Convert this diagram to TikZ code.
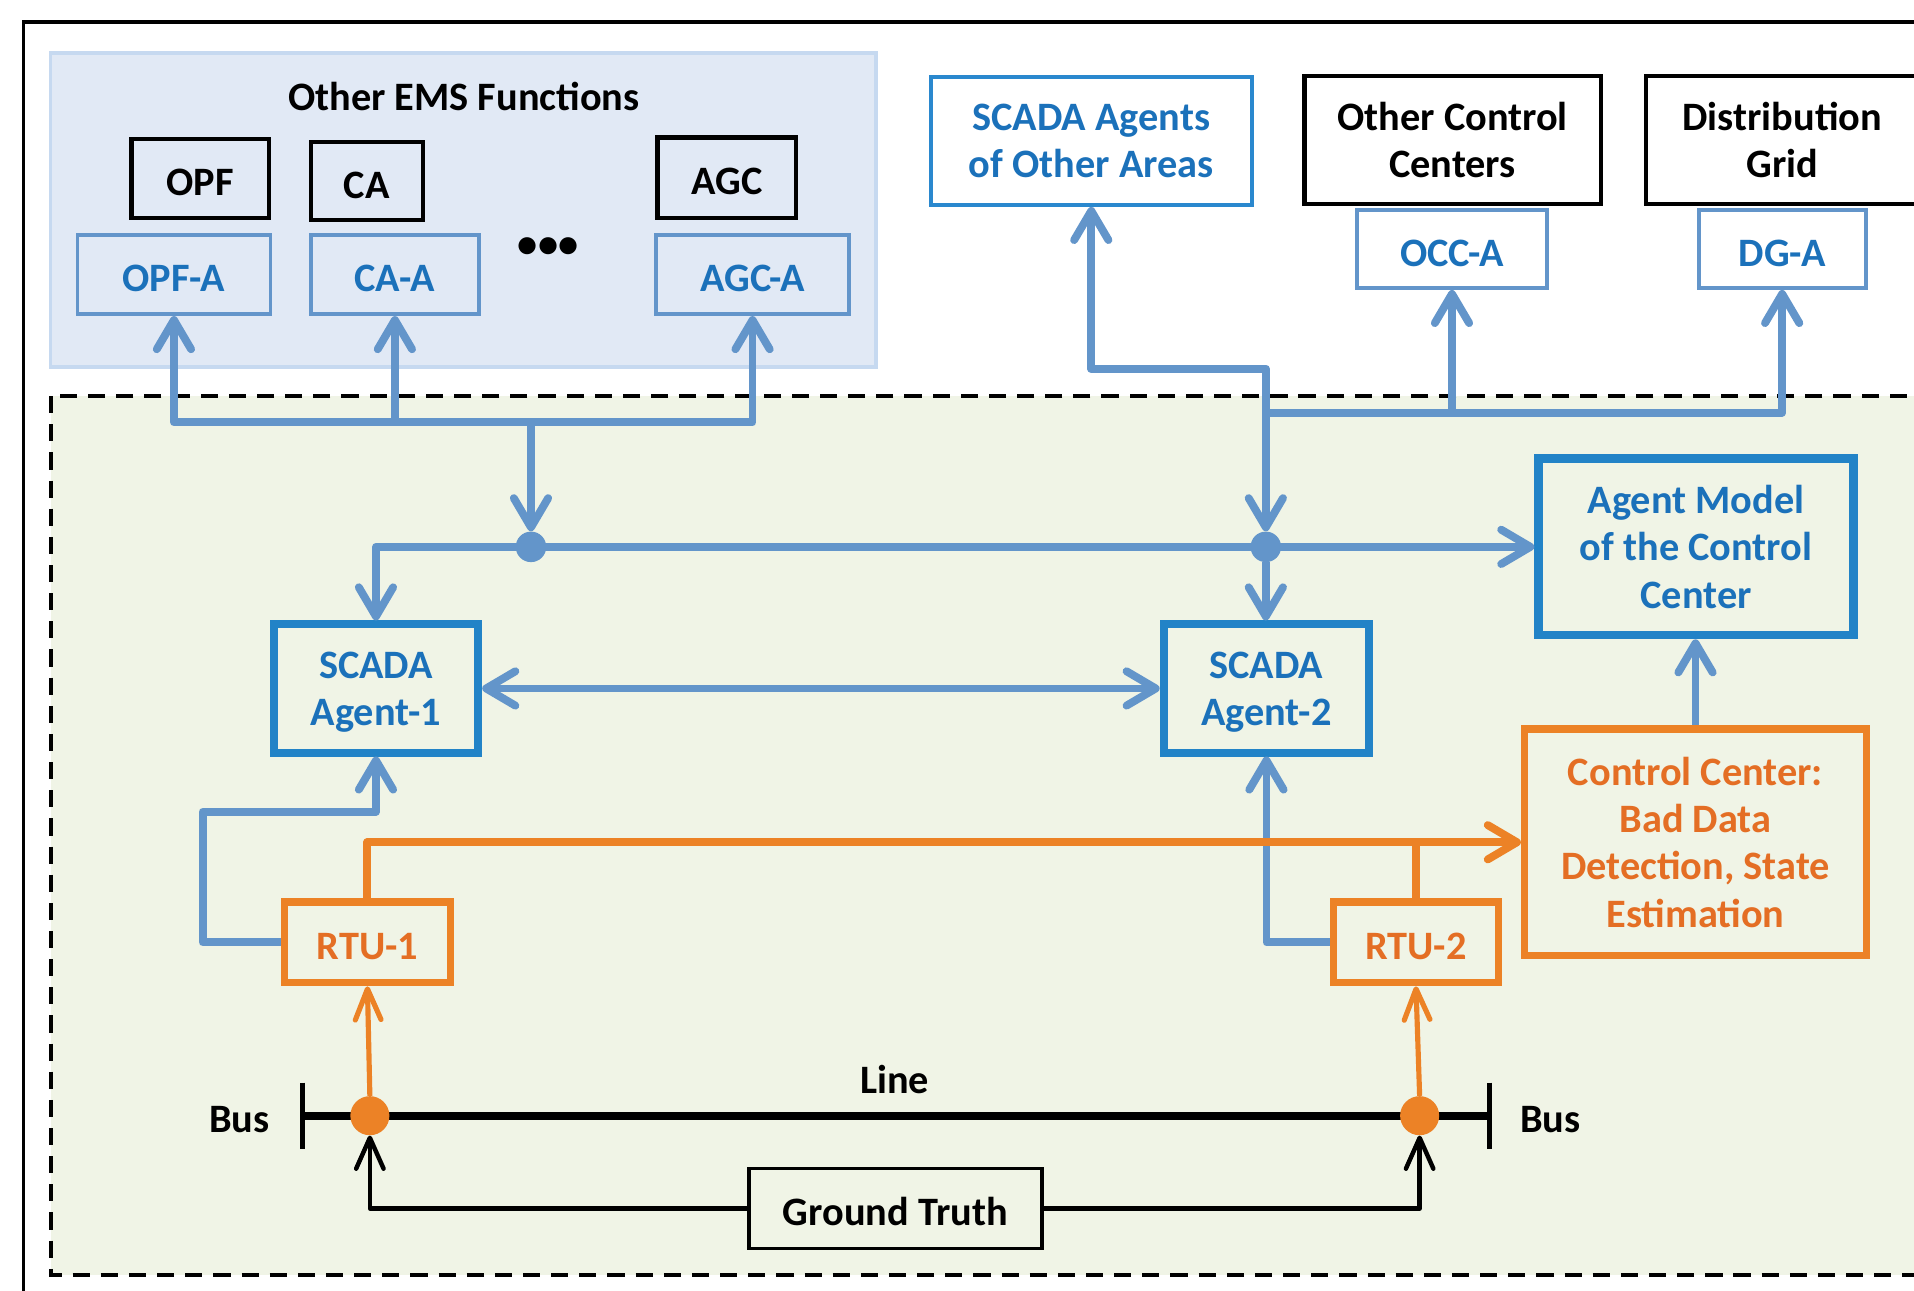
\documentclass[tikz,border=0pt]{standalone}
\usepackage{fontspec}
\setmainfont{Carlito}
\usetikzlibrary{arrows.meta,calc}

\definecolor{txtblue}{RGB}{27,113,186}
\definecolor{linkblue}{RGB}{99,149,202}
\definecolor{boxblue}{RGB}{34,131,199}
\definecolor{brightblue}{RGB}{42,136,206}
\definecolor{orng}{RGB}{236,130,38}
\definecolor{orngtxt}{RGB}{228,110,36}
\definecolor{panelfill}{RGB}{225,233,245}
\definecolor{panelline}{RGB}{198,217,240}
\definecolor{greenfill}{RGB}{240,244,230}

\tikzset{
  bbarb/.tip={Straight Barb[length=17pt,width=20pt,round]},
  obarb/.tip={Straight Barb[length=18pt,width=15pt,round]},
  kbarb/.tip={Straight Barb[length=18pt,width=16pt,round]},
}

\begin{document}
\begin{tikzpicture}[x=0.025cm,y=-0.025cm,
  every node/.style={font=\fontsize{23.5}{27.5}\selectfont\bfseries, align=center, inner sep=0pt},
  oneline/.style={text height=20pt, text depth=0pt},
  kbox/.style={draw=black, line width=2.4pt},
  abox/.style={draw=linkblue, line width=2.2pt, text=txtblue, oneline},
  sabox/.style={draw=brightblue, line width=2.3pt, text=txtblue},
  sbox/.style={draw=boxblue, line width=4.6pt, text=txtblue},
  obox/.style={draw=orng, line width=4.3pt, text=orngtxt},
  link/.style={draw=linkblue, line width=4.6pt, line join=round},
  olink/.style={draw=orng, line width=4.6pt, line join=round},
  othin/.style={draw=orng, line width=3pt},
  klink/.style={draw=black, line width=2.6pt, line join=round},
  jdot/.style={circle, fill=linkblue, minimum size=0.625cm},
  odot/.style={circle, fill=orng, minimum size=0.8cm},
]
\useasboundingbox (0,0) rectangle (1568,1057);
\clip (0,0) rectangle (1568,1057);
\fill[white] (0,0) rectangle (1568,1057);

% frames
\draw[line width=1.9pt] (19,18) rectangle (1650,1120);
\draw[draw=panelline, fill=panelfill, line width=2pt] (41.5,43.5) rectangle (717.5,300.5);
\draw[fill=greenfill, line width=2.5pt, dash pattern=on 10pt off 6.4pt] (41.5,324.5) rectangle (1650,1044.5);

% EMS functions
\node (ems) at (380,79) {Other EMS Functions};
\node[kbox, oneline, minimum width=2.815cm, minimum height=1.615cm] (opf) at (164,146) {OPF};
\node[kbox, oneline, minimum width=2.29cm, minimum height=1.59cm] (ca) at (300.5,148.5) {CA};
\node[kbox, oneline, minimum width=2.84cm, minimum height=1.64cm] (agc) at (595.5,145.5) {AGC};
\node[abox, minimum width=3.95cm, minimum height=1.62cm] (opfA) at (142.5,225) {OPF-A};
\node[abox, minimum width=3.45cm, minimum height=1.62cm] (caA) at (323.5,225) {CA-A};
\node[abox, minimum width=3.95cm, minimum height=1.62cm] (agcA) at (616.5,225) {AGC-A};
\node (more) at (449,203) {•••};

% external parties
\node[sabox, text depth=0pt, minimum width=6.57cm, minimum height=2.62cm] (sao) at (894,115.5) {SCADA Agents\\of Other Areas};
\node[kbox, minimum width=6.065cm, minimum height=2.615cm] (occ) at (1190,114.5) {Other Control\\Centers};
\node[abox, minimum width=3.9cm, minimum height=1.6cm] (occA) at (1189.5,204) {OCC-A};
\node[kbox, minimum width=5.565cm, minimum height=2.615cm] (dg) at (1460,114.5) {Distribution\\Grid};
\node[abox, minimum width=3.42cm, minimum height=1.6cm] (dgA) at (1460,204) {DG-A};

% control area
\node[sbox, text depth=0pt, minimum width=4.19cm, minimum height=2.625cm] (sa1) at (308,564) {SCADA\\Agent-1};
\node[sbox, text depth=0pt, minimum width=4.21cm, minimum height=2.625cm] (sa2) at (1037.5,564) {SCADA\\Agent-2};
\node[sbox, line width=5pt, minimum width=6.45cm, minimum height=3.61cm] (am) at (1389.5,448) {Agent Model\\of the Control\\Center};
\node[obox, minimum width=7.0cm, minimum height=4.64cm] (cc) at (1389,690) {Control Center:\\Bad Data\\Detection, State\\Estimation};
\node[obox, oneline, minimum width=3.4cm, minimum height=1.65cm] (rtu1) at (301,772) {RTU-1};
\node[obox, oneline, minimum width=3.375cm, minimum height=1.65cm] (rtu2) at (1160,772) {RTU-2};
\node[kbox, oneline, line width=2pt, minimum width=6.0cm, minimum height=1.64cm] (gt) at (733.5,990) {Ground Truth};

% transmission line with buses
\coordinate (busL) at (248,914);
\coordinate (busR) at (1220,914);
\draw[line width=4.8pt] (busL) -- (busR);
\draw[line width=3pt] ($(busL)+(0,-27)$) -- ($(busL)+(0,27)$);
\draw[line width=3pt] ($(busR)+(0,-27)$) -- ($(busR)+(0,27)$);
\node (busLlab) at (196,917.5) {Bus};
\node (busRlab) at (1270,917.5) {Bus};
\node (linelab) at (733,884.5) {Line};
\node[odot] (d1) at (303,914) {};
\node[odot] (d2) at (1163,914) {};

% junctions
\coordinate (emsJ) at (435,346);
\coordinate (extC) at (1037,302);
\coordinate (extJ) at (1037,338);
\coordinate (c1) at (166,665);
\node[jdot] (j1) at (435,448) {};
\node[jdot] (j2) at (1037,448) {};

% blue communication links
\draw[link, {bbarb}-{bbarb}] (opfA.south) -- (opfA.south |- emsJ) -- (agcA.south |- emsJ) -- (agcA.south);
\draw[link, -{bbarb}] (caA.south |- emsJ) -- (caA.south);
\draw[link, -{bbarb}] (emsJ) -- (j1.north);
\draw[link, {bbarb}-{bbarb}] (sa1.north) -- (sa1.north |- j1) -- (am.west);
\draw[link, -{bbarb}] (j2.south) -- (j2 |- sa2.north);
\draw[link, {bbarb}-{bbarb}] (sao.south) |- (extC) -- (j2.north);
\draw[link, -{bbarb}] (extJ) -| (dgA.south);
\draw[link, -{bbarb}] (occA.south |- extJ) -- (occA.south);
\draw[link, {bbarb}-{bbarb}] (sa1.east) -- (sa2.west);
\draw[link, -{bbarb}] (rtu1.west) -| (c1) -| (sa1.south);
\draw[link, -{bbarb}] (rtu2.west) -| (sa2.south);
\draw[link, -{bbarb}] (cc.north) -- (cc.north |- am.south);

% measurements
\draw[olink, -{bbarb}] (rtu1.north) |- (cc.west);
\draw[olink] (rtu2.north) -- (rtu2.north |- cc.west);
\draw[othin, -{obarb}] (d1.north) -- (rtu1.south);
\draw[othin, -{obarb}] (d2.north) -- (rtu2.south);

% ground truth
\draw[klink, -{kbarb}] (gt.west) -| (d1.south);
\draw[klink, -{kbarb}] (gt.east) -| (d2.south);
\end{tikzpicture}
\end{document}
